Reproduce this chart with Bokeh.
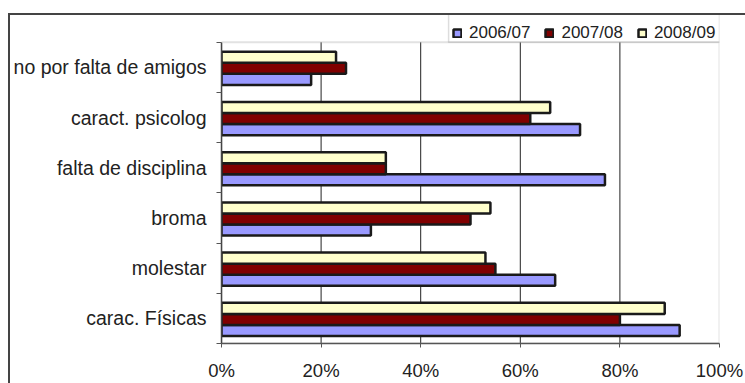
from bokeh.plotting import figure
from bokeh.models import (FixedTicker, Legend, LegendItem, ColumnDataSource,
                          InlineStyleSheet, BoxAnnotation)
from bokeh.transform import dodge
from bokeh.embed import file_html
from bokeh.resources import INLINE

# ---- data ----
categories = ["carac. Físicas", "molestar", "broma", "falta de disciplina",
              "caract. psicolog", "no por falta de amigos"]
series_names = ["2006/07", "2007/08", "2008/09"]
v_2006_07 = [92, 67, 30, 77, 72, 18]
v_2007_08 = [80, 55, 50, 33, 62, 25]
v_2008_09 = [89, 53, 54, 33, 66, 23]
x_ticks = [0, 20, 40, 60, 80, 100]
x_tick_labels = ["0%", "20%", "40%", "60%", "80%", "100%"]
grid_ticks = [20, 40, 60, 80]

colors = ["#9999FF", "#800000", "#FFFFCC"]
FONT = "Liberation Sans"

n = len(categories)
pos = [i + 0.5 for i in range(n)]
src = ColumnDataSource(dict(pos=pos, cat=categories,
                            a=v_2006_07, b=v_2007_08, c=v_2008_09))

# outer chart-area border (left and top edges visible)
frame_css = InlineStyleSheet(css="""
:host::after { content: ""; position: absolute; left: 8px; top: 13px;
  width: 737px; height: 370px; box-sizing: border-box;
  border-left: 2px solid #444; border-top: 2px solid #444;
  pointer-events: none; z-index: 10; }
""")

# extra headroom above the plot area for the legend (29px / 50.67px per category)
headroom = 0.5724

p = figure(width=745, height=383, output_backend="svg", toolbar_location=None,
           x_range=(0, 100), y_range=(0, n + headroom),
           min_border_left=221, min_border_right=26,
           min_border_top=13, min_border_bottom=37,
           stylesheets=[frame_css])
p.background_fill_color = "white"
p.border_fill_color = "white"
p.outline_line_color = None

# plot-area border (grey)
p.add_layout(BoxAnnotation(left=0, right=100, bottom=0, top=n,
                           fill_color=None, line_color="#A0A0A0",
                           line_width=2, level="underlay"))
# legend box border (grey)
p.add_layout(BoxAnnotation(left=45.6, right=100, bottom=n, top=n + headroom,
                           fill_color=None, line_color="#909090",
                           line_width=1.5, level="underlay"))

# vertical grid lines limited to the plot area
p.segment(x0=grid_ticks, y0=[0] * len(grid_ticks), x1=grid_ticks,
          y1=[n] * len(grid_ticks), line_color="#222222", line_width=1,
          level="underlay")

bh = 0.22
r1 = p.hbar(y=dodge("pos", -0.24), left=0, right="a", height=bh, source=src,
            fill_color=colors[0], line_color="#1a1a1a", line_width=2.5)
r2 = p.hbar(y=dodge("pos", -0.02), left=0, right="b", height=bh, source=src,
            fill_color=colors[1], line_color="#1a1a1a", line_width=2.5)
r3 = p.hbar(y=dodge("pos", 0.20), left=0, right="c", height=bh, source=src,
            fill_color=colors[2], line_color="#1a1a1a", line_width=2.5)

# x axis
xa = p.xaxis[0]
xa.ticker = FixedTicker(ticks=x_ticks)
xa.major_label_overrides = {t: l for t, l in zip(x_ticks, x_tick_labels)}
xa.major_tick_out = 4
xa.major_tick_in = 0
xa.minor_tick_line_color = None
xa.axis_line_color = "#555555"
xa.axis_line_width = 1.5
xa.major_tick_line_color = "#555555"
xa.major_label_standoff = 12
xa.major_label_text_font = FONT
xa.major_label_text_font_size = "18.5px"
xa.major_label_text_color = "#222222"

# y axis
ya = p.yaxis[0]
ya.bounds = (0, n)
ya.ticker = FixedTicker(ticks=pos, minor_ticks=list(range(n + 1)))
ya.major_label_overrides = {t: c for t, c in zip(pos, categories)}
ya.major_tick_line_color = None
ya.major_tick_out = 5
ya.major_tick_in = 0
ya.minor_tick_out = 5
ya.minor_tick_in = 0
ya.minor_tick_line_color = "#555555"
ya.axis_line_color = "#444444"
ya.axis_line_width = 1.5
ya.major_label_standoff = 10
ya.major_label_text_font = FONT
ya.major_label_text_font_size = "19.5px"
ya.major_label_text_color = "#222222"

p.xgrid.grid_line_color = None
p.ygrid.grid_line_color = None

legend = Legend(items=[LegendItem(label=series_names[0], renderers=[r1]),
                       LegendItem(label=series_names[1], renderers=[r2]),
                       LegendItem(label=series_names[2], renderers=[r3])],
                orientation="horizontal", location=(231, 295),
                glyph_width=10, glyph_height=10, label_height=30,
                label_standoff=7, spacing=14, padding=4, margin=0,
                label_text_font=FONT, label_text_font_size="17px",
                label_text_color="#222222",
                border_line_color=None, background_fill_alpha=0)
p.add_layout(legend, "center")

open("out.html", "w").write(file_html(p, INLINE))
